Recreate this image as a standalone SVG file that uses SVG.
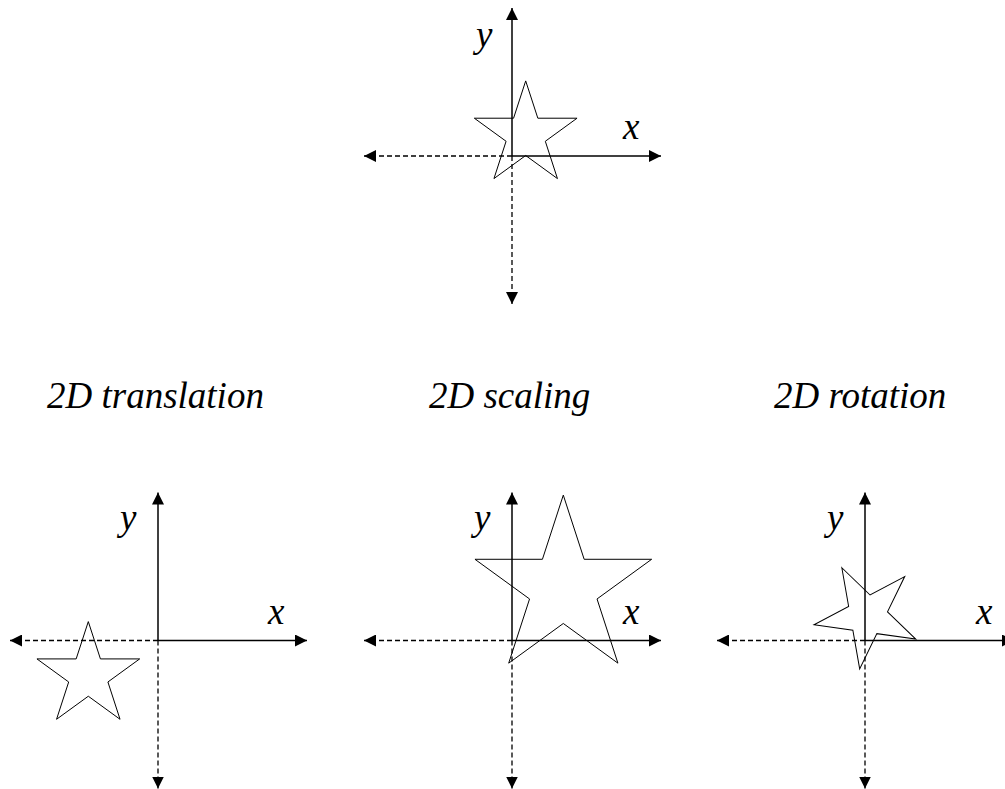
<svg xmlns="http://www.w3.org/2000/svg" xmlns:xlink="http://www.w3.org/1999/xlink" width="1005" height="789" viewBox="0 0 1005 789">
<style>
.ax{stroke:#000;stroke-width:1.5;fill:none}
.dash{stroke:#000;stroke-width:1.3;fill:none;stroke-dasharray:5,3}
.star{fill:none;stroke:#000;stroke-width:1}
.lbl{font-family:"Liberation Serif","Times New Roman",serif;font-style:italic;font-size:37px;fill:#000}
</style>
<defs>
<marker id="ah" viewBox="0 0 12 12" refX="12" refY="6" markerWidth="12" markerHeight="12" markerUnits="userSpaceOnUse" orient="auto">
<path d="M0,0 L12,6 L0,12 z" fill="#000"/>
</marker>
<polygon id="starShape" points="0,-54 12.13,-16.69 51.36,-16.69 19.62,6.37 31.74,43.69 0,20.63 -31.74,43.69 -19.62,6.37 -51.36,-16.69 -12.13,-16.69"/>
<g id="axes">
<line class="ax" x1="0" y1="0" x2="0" y2="-148" marker-end="url(#ah)"/>
<line class="ax" x1="0" y1="0" x2="149" y2="0" marker-end="url(#ah)"/>
<line class="dash" x1="0" y1="0" x2="-148" y2="0" marker-end="url(#ah)"/>
<line class="dash" x1="0" y1="0" x2="0" y2="148" marker-end="url(#ah)"/>
</g>
</defs>

<g id="connectors">
<use xlink:href="#axes" transform="translate(512,156)"/>
<use xlink:href="#axes" transform="translate(158,640.5)"/>
<use xlink:href="#axes" transform="translate(512,640.5)"/>
<use xlink:href="#axes" transform="translate(865,640.5)"/>
</g>

<g id="original">
<use xlink:href="#starShape" class="star" transform="translate(525.7,134.9)"/>
<text class="lbl" x="476" y="47">y</text>
<text class="lbl" x="623" y="139">x</text>
</g>

<g id="translation">
<text class="lbl" x="47" y="408">2D translation</text>
<use xlink:href="#starShape" class="star" transform="translate(88.3,675.6)"/>
<text class="lbl" x="120" y="530">y</text>
<text class="lbl" x="268" y="624">x</text>
</g>

<g id="scaling">
<text class="lbl" x="429" y="408">2D scaling</text>
<use xlink:href="#starShape" class="star" style="stroke-width:0.58" transform="translate(563.3,588) scale(1.72)"/>
<text class="lbl" x="474" y="530">y</text>
<text class="lbl" x="623" y="624">x</text>
</g>

<g id="rotation">
<text class="lbl" x="774" y="408">2D rotation</text>
<use xlink:href="#starShape" class="star" transform="translate(865,640.5) rotate(-28) translate(13.7,-21.1)"/>
<text class="lbl" x="827" y="530">y</text>
<text class="lbl" x="976" y="624">x</text>
</g>
</svg>
